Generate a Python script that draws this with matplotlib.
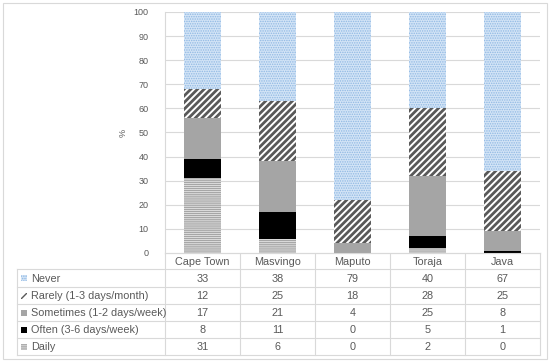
import matplotlib.pyplot as plt
import matplotlib.patches as mpatches
import numpy as np

plt.rcParams['font.family'] = ['Liberation Sans', 'DejaVu Sans']

cities = ['Cape Town', 'Masvingo', 'Maputo', 'Toraja', 'Java']
labels = ['Never', 'Rarely (1-3 days/month)', 'Sometimes (1-2 days/week)',
          'Often (3-6 days/week)', 'Daily']
never = [33, 38, 79, 40, 67]
rarely = [12, 25, 18, 28, 25]
sometimes = [17, 21, 4, 25, 8]
often = [8, 11, 0, 5, 1]
daily = [31, 6, 0, 2, 0]

# stacking order bottom -> top
stack = [daily, often, sometimes, rarely, never]
styles = [
    dict(facecolor='#F2F2F2', edgecolor='#A6A6A6', hatch='--------', hlw=1.0),
    dict(facecolor='black', edgecolor='black', hatch=None, hlw=1.0),
    dict(facecolor='#A5A5A5', edgecolor='#A5A5A5', hatch=None, hlw=1.0),
    dict(facecolor='white', edgecolor='#595959', hatch='/////', hlw=2.0),
    dict(facecolor='#D3E4F6', edgecolor='#8FB8E3', hatch='.......', hlw=0.7),
]

W, H = 550, 363
fig = plt.figure(figsize=(W / 100, H / 100), dpi=100)

# outer frame / table layer in pixel coords
bg = fig.add_axes([0, 0, 1, 1])
bg.set_xlim(0, W)
bg.set_ylim(H, 0)
bg.axis('off')
bg.add_patch(mpatches.Rectangle((3, 3), 544, 356, fill=False, edgecolor='#D9D9D9', lw=0.8))

x0, x1 = 165, 540
ax = fig.add_axes([x0 / W, (H - 253) / H, (x1 - x0) / W, (253 - 12) / H])
xs = np.arange(len(cities))
bottom = np.zeros(len(cities))
for vals, st in zip(stack, styles):
    with plt.rc_context({'hatch.linewidth': st['hlw'], 'hatch.color': st['edgecolor']}):
        bars = ax.bar(xs, vals, 0.5, bottom=bottom, color=st['facecolor'],
                      edgecolor=st['edgecolor'], hatch=st['hatch'], linewidth=0)
        for b in bars:
            try:
                b.set_hatch_linewidth(st['hlw'])
            except AttributeError:
                pass
    bottom += np.array(vals)

ax.set_xlim(-0.5, len(cities) - 0.5)
ax.set_ylim(0, 100)
ax.set_yticks(range(0, 101, 10))
ax.tick_params(axis='y', labelsize=6.5, labelcolor='#595959', length=0, pad=12)
ax.set_xticks([])
ax.grid(axis='y', color='#D9D9D9', lw=0.8)
ax.set_axisbelow(True)
for s in ['top', 'right']:
    ax.spines[s].set_visible(False)
for s in ['left', 'bottom']:
    ax.spines[s].set_color('#D9D9D9')
    ax.spines[s].set_linewidth(0.8)
ax.set_ylabel('%', fontsize=6.5, color='#595959', labelpad=4)

# data table
grid_c = '#D9D9D9'
txt_c = '#595959'
col_w = (x1 - x0) / len(cities)
rows_y = [253, 269, 287, 304, 321, 338, 355]
tx0 = 17
for i in range(len(cities) + 1):
    xv = x0 + i * col_w
    bg.plot([xv, xv], [rows_y[0], rows_y[-1]], color=grid_c, lw=0.8)
bg.plot([tx0, tx0], [rows_y[1], rows_y[-1]], color=grid_c, lw=0.8)
bg.plot([x0, x1], [rows_y[0], rows_y[0]], color=grid_c, lw=0.8)
for yv in rows_y[1:]:
    bg.plot([tx0, x1], [yv, yv], color=grid_c, lw=0.8)

for i, c in enumerate(cities):
    bg.text(x0 + (i + 0.5) * col_w, (rows_y[0] + rows_y[1]) / 2 + 1, c,
            ha='center', va='center', fontsize=7.8, color=txt_c)

table_rows = [never, rarely, sometimes, often, daily]
row_styles = [styles[4], styles[3], styles[2], styles[1], styles[0]]
for r, (lab, vals, st) in enumerate(zip(labels, table_rows, row_styles)):
    yc = (rows_y[r + 1] + rows_y[r + 2]) / 2
    with plt.rc_context({'hatch.linewidth': min(st['hlw'], 1.0), 'hatch.color': st['edgecolor']}):
        key = mpatches.Rectangle((21, yc - 3), 6, 6, facecolor=st['facecolor'],
                                 edgecolor=st['edgecolor'], hatch=st['hatch'], lw=0)
        bg.add_patch(key)
    bg.text(31, yc + 0.5, lab, ha='left', va='center', fontsize=7.8, color=txt_c)
    for i, v in enumerate(vals):
        bg.text(x0 + (i + 0.5) * col_w, yc + 0.5, str(v), ha='center', va='center',
                fontsize=7.8, color=txt_c)

fig.savefig('out.png', dpi=100)
